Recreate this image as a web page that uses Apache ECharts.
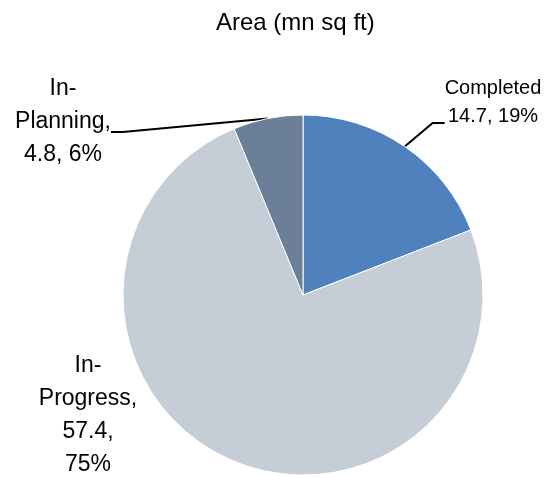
<!DOCTYPE html>
<html>
<head>
<meta charset="utf-8">
<script src="https://cdn.jsdelivr.net/npm/echarts@6/dist/echarts.min.js"></script>
<style>
    html, body { margin: 0; padding: 0; background: #fff; }
    #chart { width: 545px; height: 478px; }
</style>
</head>
<body>
<div id="chart"></div>
<script>
// chart data
const categories = ['Completed', 'In-Progress', 'In-Planning'];
const areaValues = [14.7, 57.4, 4.8];
const sliceColors = ['#4F81BD', '#C5CDD7', '#6B7F98'];

// where each label sits (px); the bottom padding moves the leader line's anchor down
const labelSpots = [
    { x: 493, y: 123 },
    { x: 63, y: 132 },
    { x: 88, y: 415 },
];
const labelPads = [
    [0, 0, 42, 0],
    [0, 0, 20, 0],
    [0, 0, 0, 0],
];

const myChart = echarts.init(document.getElementById('chart'));

const labelText = (p) => {
    const pct = Math.round(p.percent) + '%';
    if (p.dataIndex === 0) {
        return '{small|' + p.name + '}\n{small|' + p.value + ', ' + pct + '}';
    }
    const parts = p.name.split('-');
    if (p.dataIndex === 1) {
        return parts[0] + '-\n' + parts[1] + ',\n' + p.value + ',\n' + pct;
    }
    return parts[0] + '-\n' + parts[1] + ',\n' + p.value + ', ' + pct;
};

// order of the spots follows the data order below
const spotFor = { 0: 0, 1: 2, 2: 1 };

myChart.setOption({
    animation: false,
    title: {
        text: 'Area (mn sq ft)',
        left: 211,
        top: 6,
        textStyle: {
            fontFamily: 'Liberation Sans, Arial, sans-serif',
            fontSize: 24,
            fontWeight: 'normal',
            color: '#000',
        },
    },
    series: [{
        type: 'pie',
        center: [303, 295],
        radius: 180,
        startAngle: 90,
        clockwise: true,
        avoidLabelOverlap: false,
        itemStyle: {
            borderColor: '#fff',
            borderWidth: 1,
        },
        label: {
            show: true,
            position: 'outside',
            formatter: labelText,
            fontFamily: 'Liberation Sans, Arial, sans-serif',
            fontSize: 23,
            lineHeight: 33,
            color: '#000',
            align: 'center',
            rich: {
                small: {
                    fontFamily: 'Liberation Sans, Arial, sans-serif',
                    fontSize: 20,
                    lineHeight: 28,
                    color: '#000',
                    align: 'center',
                },
            },
        },
        labelLine: {
            show: true,
            length: 20,
            length2: 12,
            lineStyle: {
                color: '#000',
                width: 2,
            },
        },
        labelLayout: (params) => {
            const spot = labelSpots[spotFor[params.dataIndex]];
            return {
                x: spot.x,
                y: spot.y,
                align: 'center',
                verticalAlign: 'middle',
            };
        },
        emphasis: { disabled: true },
        data: categories.map((name, i) => ({
            name: name,
            value: areaValues[i],
            itemStyle: { color: sliceColors[i] },
            label: { padding: labelPads[spotFor[i]] },
            labelLine: { show: i !== 1 },
        })),
    }],
});
</script>
</body>
</html>
